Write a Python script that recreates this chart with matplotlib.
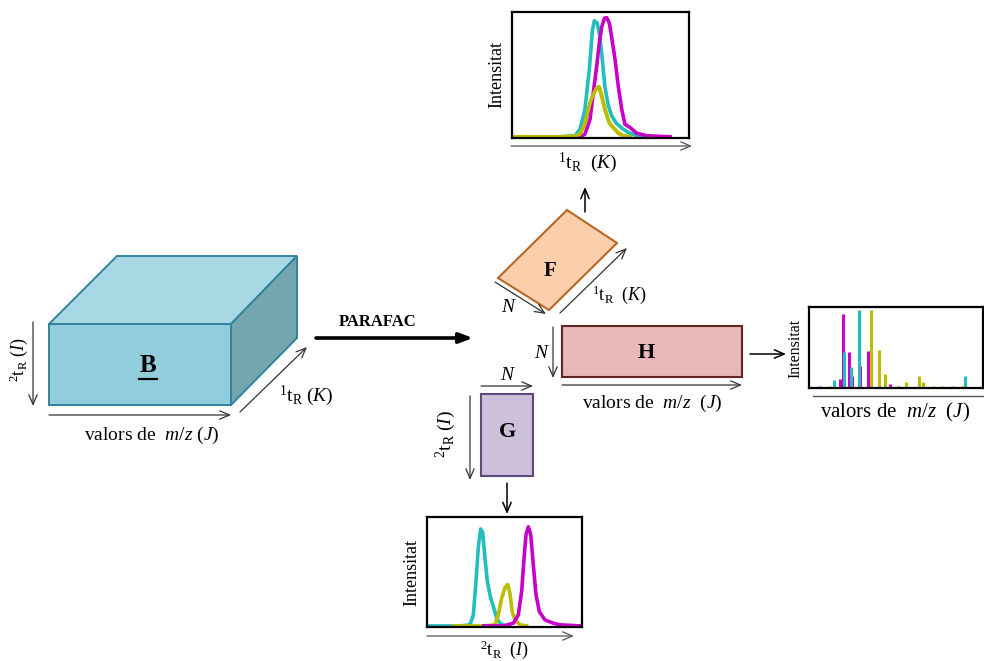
import matplotlib
matplotlib.use('Agg')
from matplotlib import pyplot as plt
from matplotlib.patches import Polygon, Rectangle

plt.rcParams['font.family'] = ['Liberation Serif', 'DejaVu Serif']
plt.rcParams['mathtext.fontset'] = 'custom'
plt.rcParams['mathtext.rm'] = 'Liberation Serif'
plt.rcParams['mathtext.it'] = 'Liberation Serif:italic'
plt.rcParams['mathtext.bf'] = 'Liberation Serif:bold'

CYAN = '#22BDBD'
MAGENTA = '#C800C8'
YELLOW = '#BCBC00'

# F profiles (1tR, K)
f_cyan_x = [27.1, 35.6, 38.4, 41.2, 43.7, 45.4, 46.5, 48.2, 49.7, 51.0, 52.5, 54.4, 56.3, 58.8, 62.0, 65.7, 70.4, 78.0]
f_cyan_y = [0, 0.8, 6, 22, 54, 85, 93, 91, 80, 62, 40, 25, 17, 11, 7, 3.4, 0.8, 0]
f_mag_x = [38.4, 41.2, 44.1, 45.9, 47.8, 49.3, 50.7, 52.2, 53.5, 55.0, 56.3, 58.2, 60.1, 62.0, 63.8, 66.7, 70.4, 76.1, 89.3]
f_mag_y = [0, 2, 14, 35, 56, 75, 88, 95, 95.5, 91, 80, 62, 40, 22, 10, 7.4, 2.9, 0.8, 0]
f_yel_x = [0.4, 27.1, 34.6, 38.4, 41.2, 44.1, 45.9, 47.8, 49.2, 50.7, 52.5, 55.0, 57.2, 60.1, 62.9, 66.7]
f_yel_y = [0, 0, 0.3, 2, 11, 27, 34, 39, 40, 32.5, 22, 11, 7.4, 2.9, 0.8, 0]

# G profiles (2tR, I)
g_cyan_x = [0.5, 21.3, 27.7, 29.9, 31.6, 33.1, 34.6, 35.9, 37.4, 38.9, 41.1, 43.2, 45.0, 47.1, 50.3]
g_cyan_y = [0, 0, 1, 10, 41, 72, 89, 86, 62, 41, 25.5, 16, 7, 2.5, 0]
g_yel_x = [17.2, 36.3, 43.9, 46.0, 48.2, 50.3, 52.0, 53.5, 55.0, 56.8, 60.0, 64.3]
g_yel_y = [0, 0, 1, 10, 25.5, 35, 38, 30, 13, 5.5, 1, 0]
g_mag_x = [36.6, 49.2, 55.7, 58.9, 61.1, 62.6, 63.9, 65.4, 66.9, 68.6, 70.3, 72.5, 76.1, 81.5, 85.8, 98.9]
g_mag_y = [0, 0, 2.5, 10, 32, 62, 84, 91, 84, 56, 29, 13, 5.5, 2.5, 1, 0]

# H spectra (m/z, J)
h_mag_x = [6.1, 17.6, 19.5, 22.9, 24.8, 29.4, 33.8, 46.6]
h_mag_y = [1.2, 10.3, 91.8, 44, 14.4, 26.7, 45.3, 3.7]
h_cyan_x = [14.3, 20.4, 24.2, 28.6, 40.5, 51.9, 89.5]
h_cyan_y = [9.5, 44, 25.5, 96.7, 2.9, 1.2, 13.6]
h_yel_x = [11.8, 35.7, 40.1, 43.9, 51.0, 55.7, 63.0, 65.6, 71.0, 76.7, 82.4, 88.2]
h_yel_y = [1.2, 95.9, 46.5, 16.9, 2.0, 6.2, 13.6, 7.0, 2.0, 1.5, 1.5, 1.5]

W, H = 984, 661
fig = plt.figure(figsize=(W / 100, H / 100), dpi=100)
ax = fig.add_axes([0, 0, 1, 1])
ax.set_xlim(0, W)
ax.set_ylim(H, 0)
ax.axis('off')


def arrow(p0, p1, lw=0.9, color='#333333'):
    ax.annotate('', xy=p1, xytext=p0,
                arrowprops=dict(arrowstyle='->,head_length=0.7,head_width=0.3',
                                lw=lw, color=color, shrinkA=0, shrinkB=0))


def inset(x0, y0, x1, y1):
    a = fig.add_axes([x0 / W, 1 - y1 / H, (x1 - x0) / W, (y1 - y0) / H])
    a.set_xlim(0, 100)
    a.set_ylim(-1, 100)
    a.set_xticks([])
    a.set_yticks([])
    for s in a.spines.values():
        s.set_linewidth(1.6)
    return a


TR1 = r'$^{1}\mathrm{t}_{\mathrm{R}}$  $\mathit{(K)}$'
TR2 = r'$^{2}\mathrm{t}_{\mathrm{R}}$  $\mathit{(I)}$'
MZ = r'valors de  $\mathit{m/z}$  $\mathit{(J)}$'

# B cube
front = [(49, 324), (231, 324), (231, 405), (49, 405)]
top = [(49, 324), (117, 256), (297, 256), (231, 324)]
side = [(231, 324), (297, 256), (297, 338), (231, 405)]
ax.add_patch(Polygon(top, closed=True, fc='#A8D8E4', ec='#31849B', lw=1.4))
ax.add_patch(Polygon(side, closed=True, fc='#74A6B0', ec='#31849B', lw=1.4))
ax.add_patch(Polygon(front, closed=True, fc='#92CDDD', ec='#31849B', lw=1.4))
ax.text(148, 366, 'B', fontsize=18, fontweight='bold', ha='center', va='center')
ax.plot([139, 157], [379, 379], color='black', lw=1.6)

arrow((33, 322), (33, 406))
ax.text(19, 360, r'$^{2}\mathrm{t}_{\mathrm{R}}$ $\mathit{(I)}$', fontsize=13,
        rotation=90, ha='center', va='center')
arrow((49, 415), (231, 415))
ax.text(152, 435, r'valors de  $\mathit{m/z}$ $\mathit{(J)}$', fontsize=14, ha='center', va='center')
arrow((240, 412), (307, 347))
ax.text(306, 396, r'$^{1}\mathrm{t}_{\mathrm{R}}$ $\mathit{(K)}$', fontsize=14, ha='center', va='center')

# PARAFAC
ax.annotate('', xy=(473, 338), xytext=(316, 338),
            arrowprops=dict(arrowstyle='-|>,head_length=0.8,head_width=0.3',
                            lw=2.6, color='black', shrinkA=0, shrinkB=0))
ax.text(378, 322, 'PARAFAC', fontsize=12, fontweight='bold', ha='center', va='center')

# F
fpar = [(498, 278), (567, 210), (617, 243), (549, 310)]
ax.add_patch(Polygon(fpar, closed=True, fc='#FBCFAC', ec='#B96623', lw=1.5))
ax.text(550, 271, 'F', fontsize=15, fontweight='bold', ha='center', va='center')
arrow((495, 282), (546, 314))
ax.text(508, 308, 'N', fontsize=14, style='italic', ha='center', va='center')
arrow((560, 313), (627, 248))
ax.text(620, 295, TR1, fontsize=13, ha='center', va='center')
arrow((585, 212), (585, 187), lw=1.1, color='black')

# H
ax.add_patch(Rectangle((562, 326), 180, 51, fc='#E6B9B8', ec='#632523', lw=1.5))
ax.text(646, 353, 'H', fontsize=16, fontweight='bold', ha='center', va='center')
arrow((553, 327), (553, 378))
ax.text(541, 354, 'N', fontsize=14, style='italic', ha='center', va='center')
arrow((562, 385), (742, 385))
ax.text(652, 403, MZ, fontsize=14, ha='center', va='center')
arrow((750, 354), (786, 354), lw=1.1, color='black')

# G
ax.add_patch(Rectangle((481, 394), 52, 82, fc='#CCC0DA', ec='#5F497A', lw=1.5))
ax.text(507, 432, 'G', fontsize=16, fontweight='bold', ha='center', va='center')
arrow((481, 386), (533, 386))
ax.text(507, 376, 'N', fontsize=14, style='italic', ha='center', va='center')
arrow((470, 396), (470, 480))
ax.text(446, 434, r'$^{2}\mathrm{t}_{\mathrm{R}}$ $\mathit{(I)}$', fontsize=14,
        rotation=90, ha='center', va='center')
arrow((507, 483), (507, 514), lw=1.1, color='black')

# F inset
a1 = inset(512, 12, 689, 138)
a1.plot(f_yel_x, f_yel_y, color=YELLOW, lw=2.6)
a1.plot(f_cyan_x, f_cyan_y, color=CYAN, lw=2.6)
a1.plot(f_mag_x, f_mag_y, color=MAGENTA, lw=2.6)
a1.plot(f_yel_x, f_yel_y, color=YELLOW, lw=2.6)
arrow((511, 146), (692, 146), lw=0.9, color='#555555')
ax.text(497, 74, 'Intensitat', fontsize=13, rotation=90, ha='center', va='center')
ax.text(588, 163, TR1, fontsize=14, ha='center', va='center')

# G inset
a2 = inset(427, 517, 582, 627)
a2.plot(g_cyan_x, g_cyan_y, color=CYAN, lw=2.6)
a2.plot(g_yel_x, g_yel_y, color=YELLOW, lw=2.6)
a2.plot(g_mag_x, g_mag_y, color=MAGENTA, lw=2.6)
arrow((427, 636), (574, 636), lw=0.9, color='#555555')
ax.text(412, 572, 'Intensitat', fontsize=13, rotation=90, ha='center', va='center')
ax.text(505, 650, TR2, fontsize=13, ha='center', va='center')

# H inset
a3 = inset(809, 307, 983, 388)
a3.vlines(h_mag_x, 0, h_mag_y, color=MAGENTA, lw=2.2)
a3.vlines(h_cyan_x, 0, h_cyan_y, color=CYAN, lw=2.2)
a3.vlines(h_yel_x, 0, h_yel_y, color=YELLOW, lw=2.2)
ax.plot([813, 984], [396, 396], color='#555555', lw=1.0)
ax.text(795, 348, 'Intensitat', fontsize=11.5, rotation=90, ha='center', va='center')
ax.text(895, 412, MZ, fontsize=15, ha='center', va='center')

fig.savefig('out.png', dpi=100)
